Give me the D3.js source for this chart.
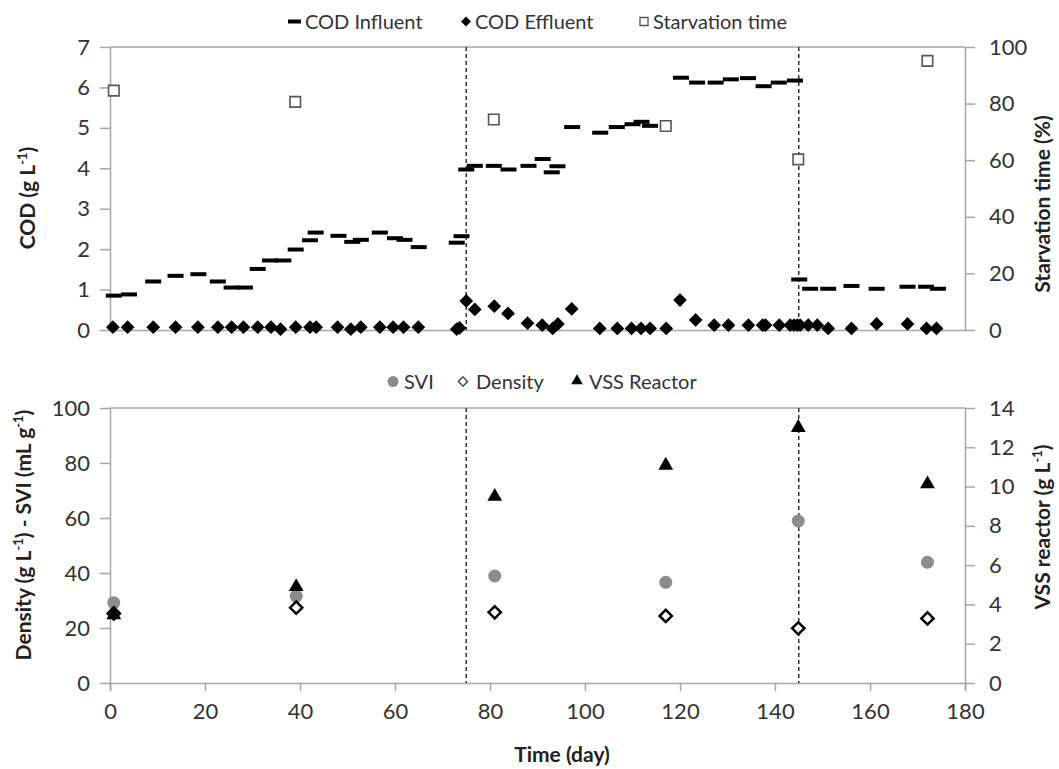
<!DOCTYPE html>
<html lang="en">
<head>
<meta charset="UTF-8">
<title>COD / SVI time series</title>
<script src="https://cdn.jsdelivr.net/npm/d3@7"></script>
<style>
  body { margin: 0; background: #fff; }
  text { font-family: Lato, "Open Sans", sans-serif; fill: #333; }
  .tick text { font-size: 22px; }
  .title { font-size: 21px; font-weight: bold; fill: #222; }
  .legend { font-size: 20px; }
</style>
</head>
<body>
<svg width="1059" height="769"></svg>
<script>
// ---- data ----
const infDays = [0.8, 4, 9.1, 13.8, 18.6, 22.7, 25.6, 28.4, 31.1, 33.7, 36.5, 39.1, 42.1, 43.3, 48.1, 51, 52.8, 56.8, 60, 62, 65, 73, 74,
  75, 76.8, 80.8, 83.9, 88.1, 91.1, 93, 94.2, 97.3, 103.2, 106.7, 110, 111.9, 113.7,
  120.2, 123.6, 127.5, 130.7, 134.3, 137.6, 140.8, 144.2,
  145.1, 147.4, 151.2, 156.1, 161.4, 167.9, 171.8, 174.3];
const infCOD = [0.85, 0.88, 1.2, 1.34, 1.38, 1.2, 1.05, 1.05, 1.51, 1.72, 1.72, 1.99, 2.22, 2.41, 2.33, 2.18, 2.23, 2.41, 2.27, 2.23, 2.05, 2.16, 2.32,
  3.97, 4.06, 4.06, 3.97, 4.06, 4.23, 3.9, 4.05, 5.02, 4.88, 5.02, 5.09, 5.15, 5.05,
  6.24, 6.12, 6.12, 6.2, 6.23, 6.03, 6.12, 6.17,
  1.25, 1.02, 1.02, 1.09, 1.02, 1.07, 1.07, 1.02];

const effDays = [0.6, 3.7, 9.1, 13.8, 18.5, 22.7, 25.6, 28.1, 31.1, 33.9, 35.9, 39.1, 42.1, 43.4, 47.9, 50.7, 52.8, 56.8, 59.6, 61.8, 64.9, 73, 73.6,
  75, 76.8, 80.9, 83.8, 87.9, 91, 93.2, 94.3, 97.2, 103.1, 106.8, 109.8, 111.8, 113.7, 117.1,
  120, 123.3, 127.2, 130.2, 134.4, 137.4, 138, 140.9, 143.2, 144, 144.7, 145.3, 147, 148.9, 151.2, 156.1, 161.4, 167.9, 171.9, 174];
const effCOD = [0.07, 0.07, 0.07, 0.07, 0.07, 0.07, 0.07, 0.07, 0.07, 0.07, 0.02, 0.07, 0.07, 0.07, 0.07, 0.02, 0.07, 0.07, 0.07, 0.07, 0.07, 0.02, 0.05,
  0.72, 0.51, 0.59, 0.41, 0.17, 0.12, 0.04, 0.15, 0.52, 0.04, 0.04, 0.04, 0.04, 0.04, 0.04,
  0.74, 0.25, 0.12, 0.12, 0.12, 0.12, 0.12, 0.12, 0.12, 0.12, 0.12, 0.12, 0.12, 0.12, 0.04, 0.04, 0.15, 0.15, 0.04, 0.04];

const starveDays = [0.8, 39, 80.8, 117, 144.9, 172.1];
const starvePct = [84.6, 80.6, 74.4, 72.1, 60.3, 95.1];

const sampleDays = [0.8, 39.2, 81, 117, 144.9, 172.1];
const sviVals = [29.2, 31.6, 38.9, 36.6, 58.9, 43.9];
const densityVals = [25.3, 27.4, 25.7, 24.4, 19.9, 23.5];
const vssVals = [3.46, 4.9, 9.49, 11.08, 13.0, 10.13];

const phaseDays = [75, 145];

const xTicks = d3.range(0, 181, 20);
const codTicks = d3.range(0, 8, 1);
const pctTicks = d3.range(0, 101, 20);
const densTicks = d3.range(0, 101, 20);
const vssTicks = d3.range(0, 15, 2);

// ---- layout ----
const svg = d3.select("svg");
const left = 110, right = 965;
const top1 = 47, bot1 = 330;
const top2 = 408, bot2 = 683;
const axisGrey = "#a6a6a6";

const x = d3.scaleLinear().domain([0, 180]).range([left, right]);
const yCOD = d3.scaleLinear().domain([0, 7]).range([bot1, top1]);
const yPct = d3.scaleLinear().domain([0, 100]).range([bot1, top1]);
const yDens = d3.scaleLinear().domain([0, 100]).range([bot2, top2]);
const yVSS = d3.scaleLinear().domain([0, 14]).range([bot2, top2]);

function styleAxis(g) {
  g.select(".domain").attr("stroke", axisGrey).attr("stroke-width", 1.5);
  g.selectAll(".tick line").attr("stroke", axisGrey).attr("stroke-width", 1.5);
  g.selectAll(".tick text").attr("fill", "#333");
}

function frame(yTop, yBot, yL, yR, lTicks, rTicks, showX) {
  // top border
  svg.append("line").attr("x1", left).attr("x2", right).attr("y1", yTop).attr("y2", yTop)
    .attr("stroke", axisGrey).attr("stroke-width", 1.5);
  svg.append("g").attr("transform", `translate(${left},0)`)
    .call(d3.axisLeft(yL).tickValues(lTicks).tickFormat(d3.format("d")).tickSize(10).tickPadding(10).tickSizeOuter(0))
    .call(styleAxis);
  svg.append("g").attr("transform", `translate(${right},0)`)
    .call(d3.axisRight(yR).tickValues(rTicks).tickFormat(d3.format("d")).tickSize(10).tickPadding(14).tickSizeOuter(0))
    .call(styleAxis);
  const xa = d3.axisBottom(x).tickValues(xTicks).tickSizeOuter(0);
  if (showX) xa.tickSize(8).tickPadding(12); else xa.tickSize(0).tickFormat("");
  svg.append("g").attr("transform", `translate(0,${yBot})`).call(xa).call(styleAxis);
  // phase boundaries
  svg.append("g").selectAll("line").data(phaseDays).join("line")
    .attr("x1", d => x(d)).attr("x2", d => x(d))
    .attr("y1", yTop).attr("y2", yBot)
    .attr("stroke", "#333").attr("stroke-width", 1.5).attr("stroke-dasharray", "4,3");
}

frame(top1, bot1, yCOD, yPct, codTicks, pctTicks, false);
frame(top2, bot2, yDens, yVSS, densTicks, vssTicks, true);

// ---- top panel marks ----
const diamond = d3.symbol(d3.symbolSquare, 95);
const square = d3.symbol(d3.symbolSquare, 110);

svg.append("g").selectAll("rect").data(infDays).join("rect")
  .attr("x", d => x(d) - 8).attr("width", 16)
  .attr("y", (d, i) => yCOD(infCOD[i]) - 2).attr("height", 4)
  .attr("fill", "#000");

svg.append("g").selectAll("path").data(effDays).join("path")
  .attr("d", diamond)
  .attr("transform", (d, i) => `translate(${x(d)},${yCOD(effCOD[i])}) rotate(45)`)
  .attr("fill", "#000");

svg.append("g").selectAll("path").data(starveDays).join("path")
  .attr("d", square)
  .attr("transform", (d, i) => `translate(${x(d)},${yPct(starvePct[i])})`)
  .attr("fill", "#fff").attr("stroke", "#555").attr("stroke-width", 1.6);

// ---- bottom panel marks ----
svg.append("g").selectAll("circle").data(sampleDays).join("circle")
  .attr("cx", d => x(d)).attr("cy", (d, i) => yDens(sviVals[i])).attr("r", 6.5)
  .attr("fill", "#8c8c8c");

svg.append("g").selectAll("path").data(sampleDays).join("path")
  .attr("d", d3.symbol(d3.symbolSquare, 75))
  .attr("transform", (d, i) => `translate(${x(d)},${yDens(densityVals[i])}) rotate(45)`)
  .attr("fill", "#fff").attr("stroke", "#000").attr("stroke-width", 2.5);

svg.append("g").selectAll("path").data(sampleDays).join("path")
  .attr("d", d3.symbol(d3.symbolTriangle, 95))
  .attr("transform", (d, i) => `translate(${x(d)},${yVSS(vssVals[i])})`)
  .attr("fill", "#000");

// ---- axis titles ----
function vTitle(cx, cy, parts) {
  const t = svg.append("text").attr("class", "title")
    .attr("text-anchor", "middle")
    .attr("transform", `translate(${cx},${cy}) rotate(-90)`);
  parts.forEach(p => {
    const s = t.append("tspan").text(p[0]);
    if (p[1]) s.attr("baseline-shift", "super").attr("font-size", "13px");
  });
}
vTitle(35, 198, [["COD (g L"], ["-1", true], [")"]]);
vTitle(1050, 204, [["Starvation time (%)"]]);
vTitle(31, 535, [["Density (g L"], ["-1", true], [") - SVI (mL g"], ["-1", true], [")"]]);
vTitle(1050, 527, [["VSS reactor (g L"], ["-1", true], [")"]]);

svg.append("text").attr("class", "title").attr("x", 562).attr("y", 762)
  .attr("text-anchor", "middle").text("Time (day)");

// ---- legends ----
const leg1 = svg.append("g").attr("class", "legend");
leg1.append("rect").attr("x", 288).attr("y", 19.5).attr("width", 13).attr("height", 4).attr("fill", "#000");
leg1.append("text").attr("x", 305).attr("y", 29).text("COD Influent");
leg1.append("path").attr("d", d3.symbol(d3.symbolSquare, 50))
  .attr("transform", "translate(466,21.5) rotate(45)").attr("fill", "#000");
leg1.append("text").attr("x", 475).attr("y", 29).text("COD Effluent");
leg1.append("path").attr("d", d3.symbol(d3.symbolSquare, 64))
  .attr("transform", "translate(644,21.5)").attr("fill", "#fff").attr("stroke", "#555").attr("stroke-width", 1.3);
leg1.append("text").attr("x", 653).attr("y", 29).text("Starvation time");

const leg2 = svg.append("g").attr("class", "legend");
leg2.append("circle").attr("cx", 393).attr("cy", 381.5).attr("r", 5.5).attr("fill", "#8c8c8c");
leg2.append("text").attr("x", 404).attr("y", 389).text("SVI");
leg2.append("path").attr("d", d3.symbol(d3.symbolSquare, 42))
  .attr("transform", "translate(463,381.5) rotate(45)").attr("fill", "#fff").attr("stroke", "#333").attr("stroke-width", 1.3);
leg2.append("text").attr("x", 476).attr("y", 389).text("Density");
leg2.append("path").attr("d", d3.symbol(d3.symbolTriangle, 58))
  .attr("transform", "translate(577,381)").attr("fill", "#000");
leg2.append("text").attr("x", 589).attr("y", 389).text("VSS Reactor");
</script>
</body>
</html>
